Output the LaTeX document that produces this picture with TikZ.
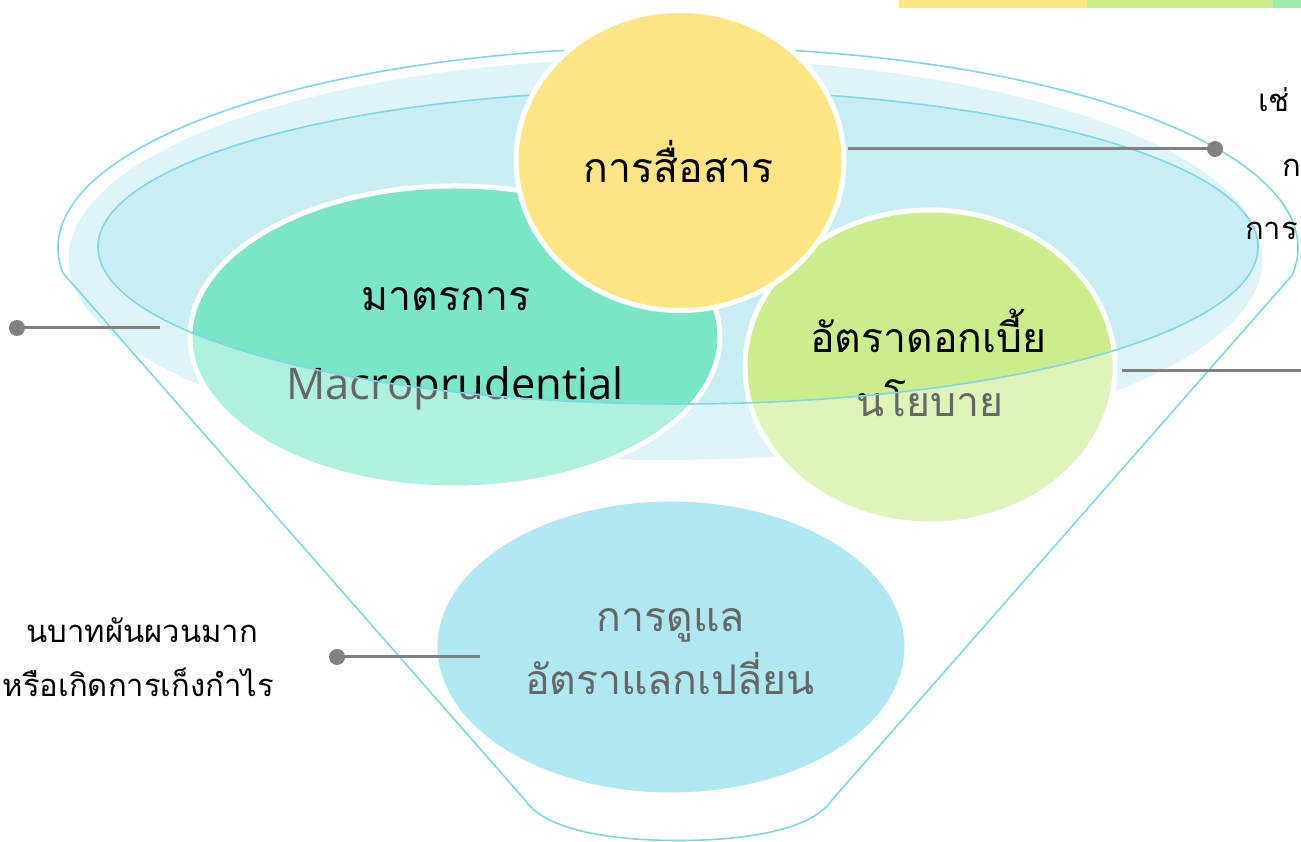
\documentclass[tikz,border=0pt]{standalone}
\usepackage{fontspec}
\newfontfamily\thaif[Script=Thai]{Loma}
\newfontfamily\latf{Open Sans}
\usetikzlibrary{shapes.geometric}
\definecolor{rimc}{HTML}{7FD7E5}
\definecolor{bowlc}{HTML}{C8EEF4}
\definecolor{yel}{HTML}{FDE584}
\definecolor{mint}{HTML}{7AE6C8}
\definecolor{lime}{HTML}{CBED8B}
\definecolor{sky}{HTML}{7AD9E6}
\definecolor{conn}{HTML}{808080}
\definecolor{barmint}{HTML}{9DEBAA}
\begin{document}
\begin{tikzpicture}[x=1pt,y=1pt,
  rim/.style={draw=rimc,line width=1.6pt},
  blob/.style={draw=white,line width=5pt},
  big/.style={font=\thaif\fontsize{41}{46}\selectfont,inner sep=0pt},
  side/.style={font=\thaif\fontsize{31}{36}\selectfont,inner sep=0pt},
  conline/.style={draw=conn,line width=3pt},
  dotc/.style={fill=conn,circle,inner sep=0pt,minimum size=16pt}]
\useasboundingbox (0,0) rectangle (1301,842);
\clip (0,0) rectangle (1301,842);
% bowl
\fill[bowlc] (665.5,583) ellipse [x radius=597,y radius=201];
\fill[bowlc] (678,595) ellipse [x radius=580,y radius=157];
% blobs
\path[blob,fill=mint] (455,505) ellipse [x radius=265,y radius=151];
\path[blob,fill=lime] (930,475) ellipse [x radius=185,y radius=157];
\path[blob,fill=sky] (671,195) ellipse [x radius=236,y radius=148];
\node[big,anchor=base] (t2) at (446,531) {มาตรการ};
\node[font=\latf\fontsize{43.5}{48}\selectfont,inner sep=0pt,anchor=base] (t3) at (455,442) {Macroprudential};
\node[big,anchor=base] (t4) at (928.5,489) {อัตราดอกเบี้ย};
\node[big,anchor=base] (t5) at (930,425) {นโยบาย};
\node[big,anchor=base] (t6) at (671,210) {การดูแล};
\node[big,anchor=base] (t7) at (670,147) {อัตราแลกเปลี่ยน};
% funnel body veil
\fill[white,opacity=0.4,even odd rule] (0,0) rectangle (1301,842) (678,595) ellipse [x radius=580,y radius=157];
\draw[rim] (678,595) ellipse [x radius=580,y radius=157];
\draw[rim] (62.8,569.2) arc[start angle=187.1,end angle=-7.7,x radius=620,y radius=201] -- (832,42) .. controls (812,12) and (746,1.5) .. (678,1.5) .. controls (610,1.5) and (545,12) .. (525,42) -- cycle;
% top circle
\path[blob,fill=yel] (680,681.5) ellipse [x radius=164,y radius=150];
\node[big,anchor=base] (t1) at (678.5,659) {การสื่อสาร};
% connectors
\node[dotc] (d1) at (1215,693) {};
\coordinate (s1) at (848,693);
\draw[conline] (s1) -- (d1.center);
\node[dotc] (d2) at (17,514) {};
\coordinate (s2) at (160,514);
\draw[conline] (d2.center) -- (s2);
\coordinate (s3) at (1122,471);
\coordinate (e3) at (1310,471);
\draw[conline] (s3) -- (e3);
\node[dotc] (d4) at (337,185) {};
\coordinate (s4) at (480,185);
\draw[conline] (d4.center) -- (s4);
% side labels
\node[side,anchor=base east] (l1) at (258,199) {นบาทผันผวนมาก};
\node[side,anchor=base east] (l2) at (274,145) {หรือเกิดการเก็งกำไร};
\node[side,anchor=base west] (r1) at (1258,730) {เช่};
\node[side,anchor=base west] (r2) at (1282,665) {ก};
\node[side,anchor=base west] (r3) at (1245,602) {การ};
% top bar
\fill[yel] (899,834) rectangle (1087,842);
\fill[lime] (1087,834) rectangle (1273,842);
\fill[barmint] (1273,834) rectangle (1301,842);
\end{tikzpicture}
\end{document}
